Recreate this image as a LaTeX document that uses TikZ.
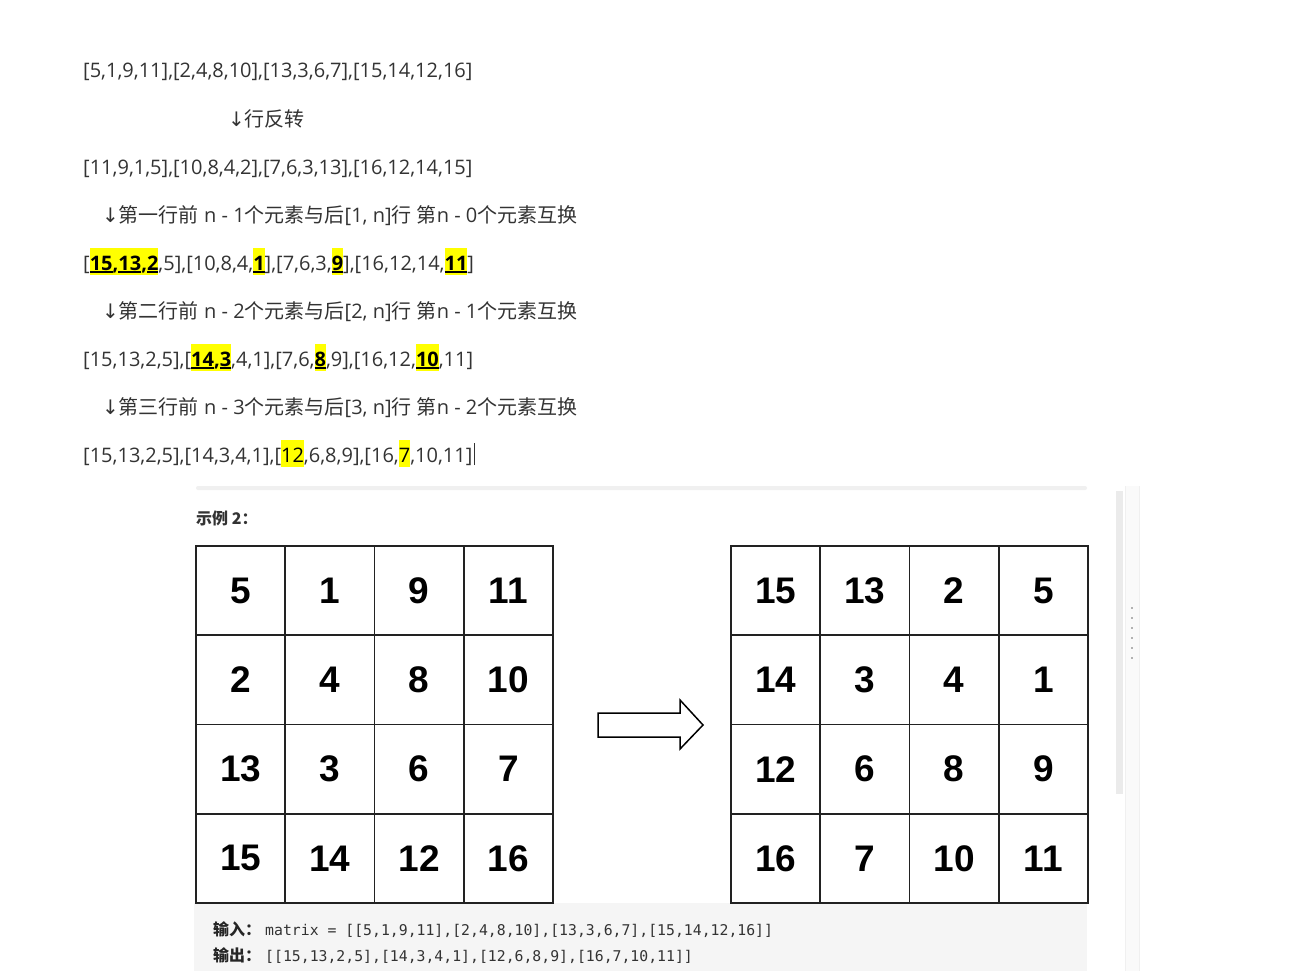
\documentclass[tikz,border=0pt]{standalone}
\usepackage{fontspec}
\setmainfont{Open Sans}
\newfontfamily\cjk{Noto Sans CJK SC}
\newfontfamily\cellfont{Liberation Sans}
\newfontfamily\arrfont{DejaVu Sans}
\setmonofont{DejaVu Sans Mono}
\usetikzlibrary{calc}

\definecolor{txt}{RGB}{51,51,51}
\definecolor{hly}{RGB}{255,255,0}
\definecolor{panel}{RGB}{245,245,245}
\definecolor{gridc}{RGB}{34,34,34}

\newcommand\hlstrut{\rule[-5pt]{0pt}{27pt}}
\newcommand\hlb[1]{{\setlength\fboxsep{0pt}\colorbox{hly}{\hlstrut\color{black}\bfseries#1}}}
\newcommand\hlp[1]{{\setlength\fboxsep{0pt}\colorbox{hly}{\hlstrut\color{black}#1}}}
\newcommand\undl[1]{\setbox0\hbox{#1}\rlap{\rule[-3pt]{\wd0}{1.8pt}}\box0}
\newcommand\dn{{\arrfont ↓}}

\tikzset{
  line/.style={anchor=base west, inner sep=0, text=txt, font=\fontsize{20}{24}\selectfont},
  cell/.style={draw=gridc, line width=1.8pt, minimum size=89.25pt, inner sep=0,
    font=\cellfont\bfseries\fontsize{37}{40}\selectfont},
  label/.style={anchor=base west, inner sep=0, text=black!85, font=\cjk\bfseries\fontsize{16}{19}\selectfont},
  code/.style={anchor=base west, inner sep=0, text=txt, font=\ttfamily\fontsize{14.8}{18}\selectfont}
}

\begin{document}
\begin{tikzpicture}[x=1pt,y=-1pt]
\useasboundingbox (0,0) rectangle (1297,971);
\fill[white] (0,0) rectangle (1297,971);
% panel behind the example
\fill[black!6, rounded corners=2pt] (196,486) rectangle (1087,490);
\fill[panel] (194,903) rectangle (1087,971);
\fill[black!2] (1125,486) rectangle (1139,971);
\draw[black!6] (1125,486) -- (1125,971);
\draw[black!6] (1139,486) -- (1139,971);
\fill[black!8] (1116,491) rectangle (1123,794);
\foreach \k in {0,...,5}
  \fill[black!30] (1131.3,607+\k*10) rectangle ++(2,2);

% steps
\node[line] (l1) at (83,78) {[5,1,9,11],[2,4,8,10],[13,3,6,7],[15,14,12,16]};
\node[line] (l2) at (228,126) {\dn{\cjk 行反转}};
\node[line] (l3) at (83,174) {[11,9,1,5],[10,8,4,2],[7,6,3,13],[16,12,14,15]};
\node[line] (l4) at (102,222) {\dn{\cjk 第一行前} n - 1{\cjk 个元素与后}[1, n]{\cjk 行} {\cjk 第}n - 0{\cjk 个元素互换}};
\node[line] (l5) at (83,270) {[\hlb{\undl{15},\undl{13},\undl{2}},5],[10,8,4,\hlb{\undl{1}}],[7,6,3,\hlb{\undl{9}}],[16,12,14,\hlb{\undl{11}}]};
\node[line] (l6) at (102,318) {\dn{\cjk 第二行前} n - 2{\cjk 个元素与后}[2, n]{\cjk 行} {\cjk 第}n - 1{\cjk 个元素互换}};
\node[line] (l7) at (83,366) {[15,13,2,5],[\hlb{\undl{14},\undl{3}},4,1],[7,6,\hlb{\undl{8}},9],[16,12,\hlb{\undl{10}},11]};
\node[line] (l8) at (102,414) {\dn{\cjk 第三行前} n - 3{\cjk 个元素与后}[3, n]{\cjk 行} {\cjk 第}n - 2{\cjk 个元素互换}};
\node[line] (l9) at (83,462) {[15,13,2,5],[14,3,4,1],[\hlp{12},6,8,9],[16,\hlp{7},10,11]};
\draw[txt, line width=1pt] ($(l9.base east)+(1.5,3)$) -- ++(0,-22);

\node[anchor=base west, inner sep=0, text=txt, font=\cjk\bfseries\fontsize{16}{19}\selectfont] (ex) at (196,524) {示例 2：};

% matrices
\foreach \row [count=\r] in {{5,1,9,11},{2,4,8,10},{13,3,6,7},{15,14,12,16}}
  \foreach \v [count=\c] in \row
    \node[cell] (a\r\c) at ({196+(\c-.5)*89.25},{546+(\r-.5)*89.25}) {\v};
\foreach \row [count=\r] in {{15,13,2,5},{14,3,4,1},{12,6,8,9},{16,7,10,11}}
  \foreach \v [count=\c] in \row
    \node[cell] (b\r\c) at ({731+(\c-.5)*89.25},{546+(\r-.5)*89.25}) {\v};

% block arrow
\coordinate (arr) at (598,725);
\draw[line width=1.5pt, fill=white, line join=miter]
  (arr) ++(0,-12) -- ++(82,0) -- ++(0,-13) -- ++(23,25) -- ++(-23,24)
  -- ++(0,-12) -- ++(-82,0) -- cycle;

% input / output
\node[label] (inl) at (213,935) {输入：};
\node[code] (inc) at (265,935) {matrix = [[5,1,9,11],[2,4,8,10],[13,3,6,7],[15,14,12,16]]};
\node[label] (outl) at (213,961) {输出：};
\node[code] (outc) at (265,961) {[[15,13,2,5],[14,3,4,1],[12,6,8,9],[16,7,10,11]]};
\end{tikzpicture}
\end{document}
